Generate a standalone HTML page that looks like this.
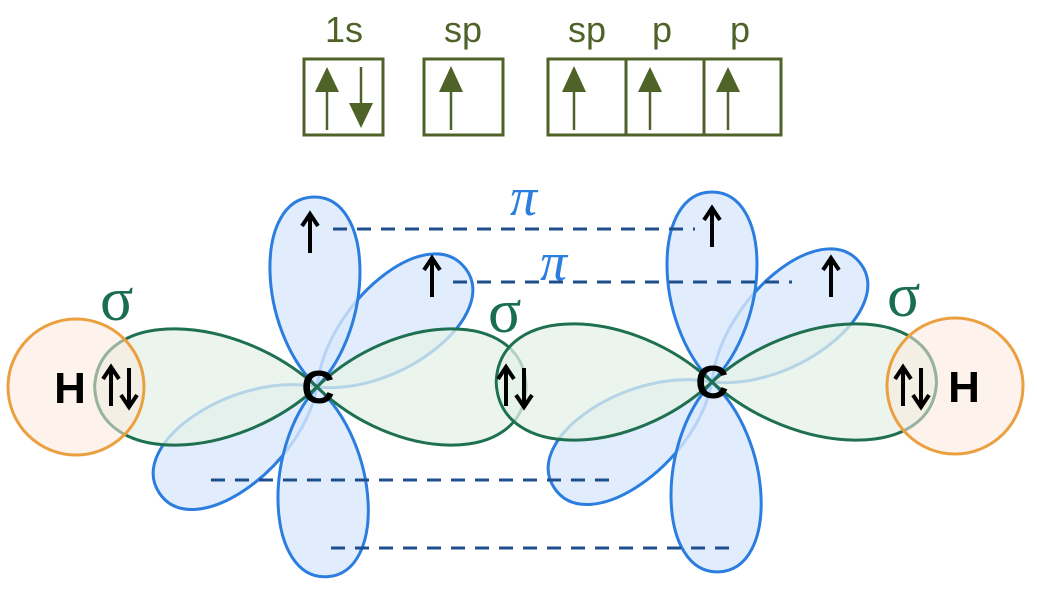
<!DOCTYPE html>
<html><head><meta charset="utf-8"><style>body{margin:0;background:#fff}svg{display:block}</style></head><body>
<svg width="1037" height="589" viewBox="0 0 1037 589" xmlns="http://www.w3.org/2000/svg" font-family="Liberation Sans, sans-serif">
<defs>
<path id="bl" d="M0 0 C60 -60 190 -60 190 0 C190 60 60 60 0 0 Z"/>
<path id="gl" d="M0 0 C80 -75 215 -80 218 0 C215 80 80 75 0 0 Z"/>
<path id="ua" d="M0 40 V2 M-8 13 L0 1 L8 13" fill="none" stroke="#000" stroke-width="4" stroke-linejoin="miter"/>
<path id="da" d="M0 0 V38 M-8 27 L0 39 L8 27" fill="none" stroke="#000" stroke-width="4"/>
</defs>
<g fill="none" stroke="#4f6228" stroke-width="3">
<rect x="304" y="59" width="79" height="76"/>
<rect x="424" y="59" width="79" height="76"/>
<rect x="548" y="59" width="233" height="76"/>
<line x1="626" y1="59" x2="626" y2="135"/>
<line x1="704" y1="59" x2="704" y2="135"/>
<g stroke-width="2.5">
<line x1="327" y1="90" x2="327" y2="130"/><line x1="361" y1="67" x2="361" y2="108"/>
<line x1="451" y1="90" x2="451" y2="130"/>
<line x1="574" y1="90" x2="574" y2="130"/><line x1="650" y1="90" x2="650" y2="130"/><line x1="728" y1="90" x2="728" y2="130"/>
</g></g>
<g fill="#4f6228">
<polygon points="327,67 315,92 339,92"/><polygon points="361,128 349,103 373,103"/>
<polygon points="451,66 439,92 463,92"/>
<polygon points="574,66 562,92 586,92"/><polygon points="650,67 638,92 662,92"/><polygon points="728,67 716,92 740,92"/>
</g>
<g fill="#4f6228" font-size="36" text-anchor="middle">
<text x="344" y="42">1s</text><text x="463" y="42">sp</text><text x="587" y="42">sp</text><text x="662" y="42">p</text><text x="740" y="42">p</text>
</g>
<g fill="#d9e9fb" fill-opacity="0.8" stroke="#2b7de0" stroke-width="3">
<use href="#bl" transform="translate(317,387) rotate(-39)"/>
<use href="#bl" transform="translate(317,387) rotate(146)"/>
<use href="#bl" transform="translate(317,387) rotate(-91)"/>
<use href="#bl" transform="translate(317,387) rotate(87)"/>
<use href="#bl" transform="translate(712,382) rotate(-39)"/>
<use href="#bl" transform="translate(712,382) rotate(146)"/>
<use href="#bl" transform="translate(712,382) rotate(-90)"/>
<use href="#bl" transform="translate(712,382) rotate(88)"/>
</g>
<g fill="#e4f2e8" fill-opacity="0.75" stroke="#1e7050" stroke-width="3">
<use href="#gl" transform="translate(317,387) rotate(180) scale(1.02,1)"/>
<use href="#gl" transform="translate(317,387) rotate(0) scale(0.96,1)"/>
<use href="#gl" transform="translate(712,382) rotate(180) scale(0.99,1)"/>
<use href="#gl" transform="translate(712,382) rotate(0) scale(1.03,1)"/>
</g>
<g fill="#fce9dc" fill-opacity="0.55" stroke="#eba040" stroke-width="3">
<circle cx="76" cy="387" r="68"/>
<circle cx="955" cy="386" r="68"/>
</g>
<g stroke="#1f4e8c" stroke-width="3" stroke-dasharray="14 10">
<line x1="333" y1="229" x2="695" y2="229"/>
<line x1="453" y1="282" x2="792" y2="282"/>
<line x1="211" y1="480" x2="612" y2="480"/>
<line x1="331" y1="548" x2="730" y2="548"/>
</g>
<g fill="#2b7de0" font-family="Liberation Serif, serif" font-style="italic" font-size="54">
<text x="510" y="215">π</text><text x="540" y="280">π</text>
</g>
<g fill="#1a6e50" font-family="Liberation Serif, serif" font-size="62">
<text x="100" y="320">σ</text><text x="488" y="332">σ</text><text x="887" y="316">σ</text>
</g>
<use href="#ua" x="310" y="213"/><use href="#ua" x="432" y="257"/>
<use href="#ua" x="712" y="207"/><use href="#ua" x="831" y="257"/>
<use href="#ua" x="111" y="366"/><use href="#da" x="129" y="368"/>
<use href="#ua" x="506" y="366"/><use href="#da" x="524" y="368"/>
<use href="#ua" x="903" y="366"/><use href="#da" x="921" y="368"/>
<g fill="#000" font-weight="bold" text-anchor="middle">
<text x="70" y="403" font-size="44">H</text><text x="964" y="402" font-size="44">H</text>
<text x="318" y="403" font-size="46">C</text><text x="712" y="398" font-size="46">C</text>
</g>
</svg>
</body></html>
